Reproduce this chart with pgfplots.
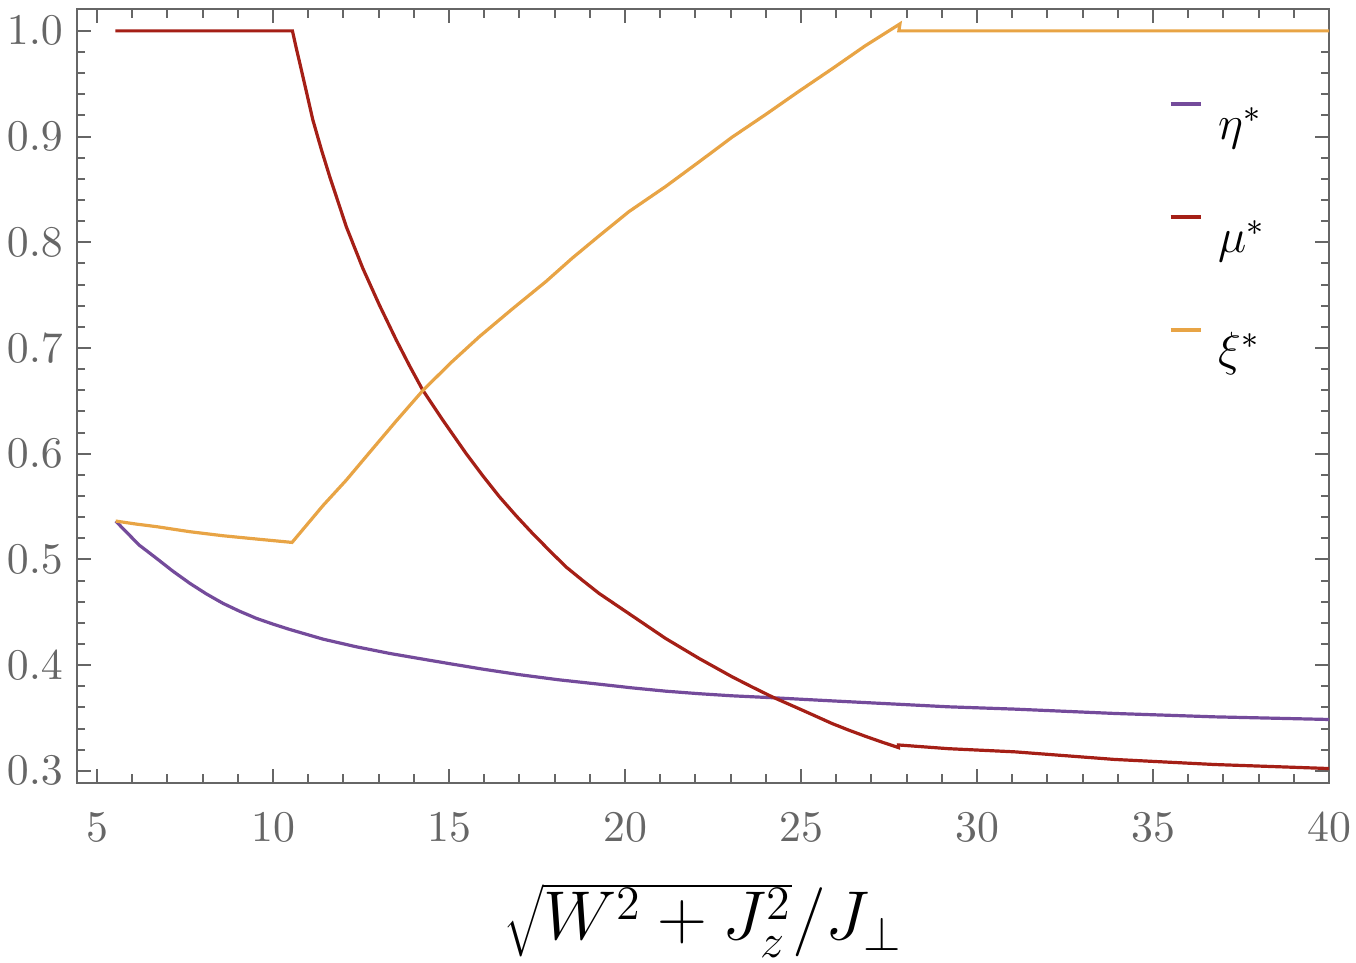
\documentclass[border=0pt]{standalone}
\usepackage{pgfplots}
\pgfplotsset{compat=1.18}
\definecolor{fr}{HTML}{666666}
\definecolor{cpur}{HTML}{744B9B}
\definecolor{cred}{HTML}{A51F16}
\definecolor{corg}{HTML}{E8A445}
\newcommand{\lstrut}{\rule[-9pt]{0pt}{28.5pt}}
\begin{document}
\begin{tikzpicture}
\useasboundingbox (-19.25pt,-44.8pt) rectangle (319.75pt,195.7pt);
\begin{axis}[
  at={(0pt,0pt)}, anchor=south west,
  scale only axis, width=313pt, height=193.4pt,
  xmin=4.43, xmax=40, ymin=0.2887, ymax=1.0205,
  xtick={5,10,15,20,25,30,35,40},
  ytick={0.3,0.4,0.5,0.6,0.7,0.8,0.9,1.0},
  minor x tick num=4, minor y tick num=4,
  major tick length=3.5pt, minor tick length=2.1pt,
  tick style={fr, line width=0.5pt},
  axis line style={fr, line width=0.5pt},
  ticklabel style={font=\fontsize{10.6}{12}\selectfont, text=fr},
  yticklabel style={/pgf/number format/fixed, /pgf/number format/fixed zerofill, /pgf/number format/precision=1},
  xticklabel style={yshift=-4pt},
  xlabel={$\sqrt{W^2+J_z^2}/J_\perp$},
  xlabel style={font=\fontsize{16.5}{20}\selectfont, inner sep=0pt, anchor=north, at={(axis description cs:0.5,0)}, yshift=-25pt},
  legend image code/.code={\draw[#1, line width=1pt] (0pt,0pt) -- (7.5pt,0pt);},
  legend cell align=left,
  legend style={draw=none, fill=none, at={(axis cs:35.42,0.9717)}, anchor=north west, row sep=7.25pt, font=\fontsize{12}{14}\selectfont, inner sep=0pt,
    nodes={inner sep=0pt},
    /tikz/every odd column/.append style={column sep=4pt}},
]
\addplot[cpur, line width=0.8pt] coordinates {
(5.53,0.5363) (5.8,0.527) (6.2,0.5135) (6.69,0.501) (7.15,0.489) (7.64,0.4773) (8.1,0.4675) (8.58,0.4584) (9.05,0.451) (9.53,0.4442)
(10.0,0.4388) (10.47,0.4338) (11.42,0.4246) (12.36,0.4174) (13.31,0.4111) (14.2,0.406) (15.0,0.4015) (16.0,0.396) (17.0,0.391)
(18.1,0.3862) (19.26,0.382) (20.2,0.3785) (21.15,0.3754) (22.1,0.373) (23.04,0.371) (24.18,0.3692) (25.88,0.3662) (27.77,0.363)
(29.18,0.3606) (31.07,0.3584) (33.91,0.3543) (36.75,0.3511) (40,0.3486)
};
\addlegendentry{\lstrut$\eta^*$}
\addplot[cred, line width=0.8pt] coordinates {
(5.52,1.0) (10.55,1.0) (10.65,0.985) (10.76,0.9694) (10.95,0.942) (11.13,0.9158) (11.37,0.888) (11.61,0.8621) (11.85,0.838) (12.08,0.8148)
(12.55,0.7754) (13.02,0.7407) (13.50,0.7076) (13.88,0.683) (14.25,0.6603) (14.82,0.6319) (15.48,0.6004)
(15.95,0.5795) (16.43,0.5593) (16.9,0.5415) (17.37,0.5247) (17.85,0.5085) (18.32,0.4930) (18.8,0.480) (19.26,0.4679) (20.21,0.4465) (21.15,0.4253)
(22.10,0.4064) (23.04,0.389) (23.6,0.3795) (24.18,0.370) (24.93,0.359) (25.4,0.352) (25.88,0.3448) (26.35,0.3386) (26.82,0.3328) (27.3,0.3272)
(27.77,0.3220) (27.77,0.3245) (29.18,0.321) (31.07,0.318) (33.91,0.3108) (36.75,0.306)
(40,0.3022)
};
\addlegendentry{\lstrut$\mu^*$}
\addplot[corg, line width=0.8pt] coordinates {
(5.53,0.5363) (6.1,0.5335) (6.69,0.531) (7.64,0.5262) (8.58,0.5224) (9.53,0.5193) (10.54,0.5161)
(11.42,0.551) (12.08,0.575) (12.8,0.6035) (13.5,0.631) (14.25,0.6596) (15.05,0.686) (15.86,0.7107) (16.8,0.737) (17.75,0.7628) (18.5,0.785) (19.26,0.806)
(20.11,0.829) (21.15,0.8527) (22.1,0.876) (23.04,0.8994) (24.0,0.921) (24.93,0.9426) (25.9,0.9645) (26.82,0.9858) (27.81,1.0066)
(27.78,1.0) (40,1.0)
};
\addlegendentry{\lstrut$\xi^*$}
\end{axis}
\end{tikzpicture}
\end{document}
